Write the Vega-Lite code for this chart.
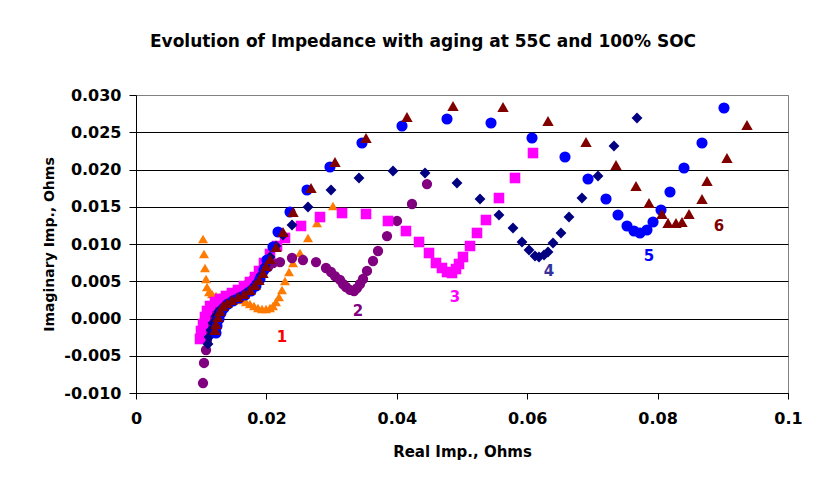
{
  "$schema": "https://vega.github.io/schema/vega-lite/v6.json",
  "width": 652,
  "height": 298,
  "autosize": {"type": "none"},
  "padding": {"left": 136, "top": 95, "right": 39, "bottom": 84},
  "background": "white",
  "title": {
    "text": "Evolution of Impedance with aging at 55C and 100% SOC",
    "font": "DejaVu Sans",
    "fontSize": 17,
    "fontWeight": "bold",
    "color": "black",
    "anchor": "middle",
    "frame": "group",
    "dx": -39,
    "baseline": "alphabetic",
    "offset": 23
  },
  "config": {
    "view": {"stroke": "#808080", "strokeWidth": 1},
    "axis": {
      "labelFont": "DejaVu Sans",
      "labelFontWeight": "bold",
      "labelColor": "black",
      "titleFont": "DejaVu Sans",
      "titleFontWeight": "bold",
      "titleColor": "black",
      "domainColor": "black",
      "tickColor": "black",
      "labelFlush": false,
      "labelOverlap": false
    }
  },
  "datasets": {
    "points": [
      {"s": "1", "x": 0.01028, "y": 0.01067},
      {"s": "1", "x": 0.01043, "y": 0.00866},
      {"s": "1", "x": 0.01058, "y": 0.00678},
      {"s": "1", "x": 0.01074, "y": 0.0053},
      {"s": "1", "x": 0.01089, "y": 0.00423},
      {"s": "1", "x": 0.0112, "y": 0.00356},
      {"s": "1", "x": 0.01166, "y": 0.00329},
      {"s": "1", "x": 0.01227, "y": 0.00302},
      {"s": "1", "x": 0.01288, "y": 0.00289},
      {"s": "1", "x": 0.0135, "y": 0.00289},
      {"s": "1", "x": 0.01411, "y": 0.00275},
      {"s": "1", "x": 0.01472, "y": 0.00275},
      {"s": "1", "x": 0.01564, "y": 0.00262},
      {"s": "1", "x": 0.01626, "y": 0.00248},
      {"s": "1", "x": 0.01687, "y": 0.00221},
      {"s": "1", "x": 0.01748, "y": 0.00195},
      {"s": "1", "x": 0.0181, "y": 0.00168},
      {"s": "1", "x": 0.01871, "y": 0.00141},
      {"s": "1", "x": 0.01933, "y": 0.00128},
      {"s": "1", "x": 0.01994, "y": 0.00128},
      {"s": "1", "x": 0.02055, "y": 0.00141},
      {"s": "1", "x": 0.02101, "y": 0.00168},
      {"s": "1", "x": 0.02147, "y": 0.00221},
      {"s": "1", "x": 0.02193, "y": 0.00289},
      {"s": "1", "x": 0.02239, "y": 0.00383},
      {"s": "1", "x": 0.02285, "y": 0.00503},
      {"s": "1", "x": 0.02347, "y": 0.00624},
      {"s": "1", "x": 0.02408, "y": 0.00745},
      {"s": "1", "x": 0.02515, "y": 0.00879},
      {"s": "1", "x": 0.02638, "y": 0.01081},
      {"s": "1", "x": 0.02776, "y": 0.01282},
      {"s": "1", "x": 0.03021, "y": 0.0151},
      {"s": "2", "x": 0.01028, "y": -0.00866},
      {"s": "2", "x": 0.01043, "y": -0.00597},
      {"s": "2", "x": 0.01074, "y": -0.00423},
      {"s": "2", "x": 0.01089, "y": -0.00289},
      {"s": "2", "x": 0.01104, "y": -0.00154},
      {"s": "2", "x": 0.01135, "y": -0.0002},
      {"s": "2", "x": 0.01166, "y": 0.00087},
      {"s": "2", "x": 0.01212, "y": 0.00181},
      {"s": "2", "x": 0.01288, "y": 0.00248},
      {"s": "2", "x": 0.01396, "y": 0.00289},
      {"s": "2", "x": 0.01488, "y": 0.00342},
      {"s": "2", "x": 0.01595, "y": 0.00383},
      {"s": "2", "x": 0.01702, "y": 0.0045},
      {"s": "2", "x": 0.01794, "y": 0.00517},
      {"s": "2", "x": 0.01871, "y": 0.0057},
      {"s": "2", "x": 0.01948, "y": 0.00624},
      {"s": "2", "x": 0.02025, "y": 0.00691},
      {"s": "2", "x": 0.02101, "y": 0.00745},
      {"s": "2", "x": 0.02209, "y": 0.00758},
      {"s": "2", "x": 0.02393, "y": 0.00812},
      {"s": "2", "x": 0.02561, "y": 0.00785},
      {"s": "2", "x": 0.02761, "y": 0.00758},
      {"s": "2", "x": 0.02914, "y": 0.00678},
      {"s": "2", "x": 0.02991, "y": 0.00624},
      {"s": "2", "x": 0.03052, "y": 0.0057},
      {"s": "2", "x": 0.03129, "y": 0.00517},
      {"s": "2", "x": 0.03175, "y": 0.00463},
      {"s": "2", "x": 0.03221, "y": 0.00423},
      {"s": "2", "x": 0.03282, "y": 0.00383},
      {"s": "2", "x": 0.03344, "y": 0.00369},
      {"s": "2", "x": 0.0339, "y": 0.00409},
      {"s": "2", "x": 0.03436, "y": 0.00463},
      {"s": "2", "x": 0.03482, "y": 0.0053},
      {"s": "2", "x": 0.03543, "y": 0.00638},
      {"s": "2", "x": 0.03635, "y": 0.00772},
      {"s": "2", "x": 0.03712, "y": 0.00906},
      {"s": "2", "x": 0.0385, "y": 0.01107},
      {"s": "2", "x": 0.04003, "y": 0.01309},
      {"s": "2", "x": 0.04233, "y": 0.01537},
      {"s": "2", "x": 0.04463, "y": 0.01805},
      {"s": "3", "x": 0.00982, "y": -0.00275},
      {"s": "3", "x": 0.00997, "y": -0.00168},
      {"s": "3", "x": 0.01028, "y": -0.00074},
      {"s": "3", "x": 0.01058, "y": 0.0002},
      {"s": "3", "x": 0.01089, "y": 0.00101},
      {"s": "3", "x": 0.01135, "y": 0.00168},
      {"s": "3", "x": 0.01212, "y": 0.00221},
      {"s": "3", "x": 0.01288, "y": 0.00262},
      {"s": "3", "x": 0.0138, "y": 0.00302},
      {"s": "3", "x": 0.01472, "y": 0.00342},
      {"s": "3", "x": 0.01564, "y": 0.00383},
      {"s": "3", "x": 0.01656, "y": 0.00436},
      {"s": "3", "x": 0.01748, "y": 0.0049},
      {"s": "3", "x": 0.01825, "y": 0.00557},
      {"s": "3", "x": 0.01887, "y": 0.00638},
      {"s": "3", "x": 0.01963, "y": 0.00745},
      {"s": "3", "x": 0.02055, "y": 0.00866},
      {"s": "3", "x": 0.02163, "y": 0.00973},
      {"s": "3", "x": 0.02285, "y": 0.01081},
      {"s": "3", "x": 0.02531, "y": 0.01242},
      {"s": "3", "x": 0.02822, "y": 0.01362},
      {"s": "3", "x": 0.0316, "y": 0.01416},
      {"s": "3", "x": 0.03528, "y": 0.01403},
      {"s": "3", "x": 0.03865, "y": 0.01309},
      {"s": "3", "x": 0.04141, "y": 0.01174},
      {"s": "3", "x": 0.04341, "y": 0.01027},
      {"s": "3", "x": 0.04494, "y": 0.00879},
      {"s": "3", "x": 0.04601, "y": 0.00745},
      {"s": "3", "x": 0.04693, "y": 0.00678},
      {"s": "3", "x": 0.0477, "y": 0.00624},
      {"s": "3", "x": 0.04847, "y": 0.00611},
      {"s": "3", "x": 0.04908, "y": 0.00664},
      {"s": "3", "x": 0.04954, "y": 0.00732},
      {"s": "3", "x": 0.05015, "y": 0.00826},
      {"s": "3", "x": 0.05123, "y": 0.00973},
      {"s": "3", "x": 0.0523, "y": 0.01148},
      {"s": "3", "x": 0.05368, "y": 0.01322},
      {"s": "3", "x": 0.05567, "y": 0.01617},
      {"s": "3", "x": 0.05813, "y": 0.01886},
      {"s": "3", "x": 0.06089, "y": 0.02221},
      {"s": "4", "x": 0.01104, "y": -0.00342},
      {"s": "4", "x": 0.0112, "y": -0.00248},
      {"s": "4", "x": 0.0115, "y": -0.00154},
      {"s": "4", "x": 0.01181, "y": -0.0006},
      {"s": "4", "x": 0.01227, "y": 0.00034},
      {"s": "4", "x": 0.01273, "y": 0.00101},
      {"s": "4", "x": 0.0135, "y": 0.00168},
      {"s": "4", "x": 0.01426, "y": 0.00208},
      {"s": "4", "x": 0.01503, "y": 0.00248},
      {"s": "4", "x": 0.01595, "y": 0.00289},
      {"s": "4", "x": 0.01687, "y": 0.00342},
      {"s": "4", "x": 0.01779, "y": 0.00409},
      {"s": "4", "x": 0.01856, "y": 0.0049},
      {"s": "4", "x": 0.01917, "y": 0.00584},
      {"s": "4", "x": 0.01979, "y": 0.00705},
      {"s": "4", "x": 0.02055, "y": 0.00826},
      {"s": "4", "x": 0.02147, "y": 0.00973},
      {"s": "4", "x": 0.02255, "y": 0.01121},
      {"s": "4", "x": 0.02393, "y": 0.01255},
      {"s": "4", "x": 0.02638, "y": 0.01497},
      {"s": "4", "x": 0.02991, "y": 0.01725},
      {"s": "4", "x": 0.0342, "y": 0.01886},
      {"s": "4", "x": 0.03942, "y": 0.0198},
      {"s": "4", "x": 0.04433, "y": 0.01953},
      {"s": "4", "x": 0.04923, "y": 0.01819},
      {"s": "4", "x": 0.05276, "y": 0.01604},
      {"s": "4", "x": 0.05567, "y": 0.01389},
      {"s": "4", "x": 0.05782, "y": 0.01215},
      {"s": "4", "x": 0.0592, "y": 0.01027},
      {"s": "4", "x": 0.06028, "y": 0.00919},
      {"s": "4", "x": 0.0612, "y": 0.00839},
      {"s": "4", "x": 0.06181, "y": 0.00826},
      {"s": "4", "x": 0.06258, "y": 0.00852},
      {"s": "4", "x": 0.06319, "y": 0.00893},
      {"s": "4", "x": 0.06396, "y": 0.01013},
      {"s": "4", "x": 0.06518, "y": 0.01148},
      {"s": "4", "x": 0.06641, "y": 0.01362},
      {"s": "4", "x": 0.0684, "y": 0.01617},
      {"s": "4", "x": 0.07086, "y": 0.01913},
      {"s": "4", "x": 0.07331, "y": 0.02315},
      {"s": "4", "x": 0.07684, "y": 0.02691},
      {"s": "5", "x": 0.01227, "y": -0.00195},
      {"s": "5", "x": 0.01242, "y": -0.00101},
      {"s": "5", "x": 0.01273, "y": -0.00007},
      {"s": "5", "x": 0.01304, "y": 0.00074},
      {"s": "5", "x": 0.0135, "y": 0.00141},
      {"s": "5", "x": 0.01411, "y": 0.00195},
      {"s": "5", "x": 0.01488, "y": 0.00235},
      {"s": "5", "x": 0.0158, "y": 0.00275},
      {"s": "5", "x": 0.01672, "y": 0.00315},
      {"s": "5", "x": 0.01764, "y": 0.00369},
      {"s": "5", "x": 0.0184, "y": 0.00436},
      {"s": "5", "x": 0.01902, "y": 0.0053},
      {"s": "5", "x": 0.01963, "y": 0.00651},
      {"s": "5", "x": 0.02009, "y": 0.00785},
      {"s": "5", "x": 0.02101, "y": 0.0096},
      {"s": "5", "x": 0.02178, "y": 0.01161},
      {"s": "5", "x": 0.02362, "y": 0.0143},
      {"s": "5", "x": 0.02623, "y": 0.01725},
      {"s": "5", "x": 0.02975, "y": 0.02034},
      {"s": "5", "x": 0.03466, "y": 0.02356},
      {"s": "5", "x": 0.0408, "y": 0.02584},
      {"s": "5", "x": 0.0477, "y": 0.02678},
      {"s": "5", "x": 0.05445, "y": 0.02624},
      {"s": "5", "x": 0.06074, "y": 0.02423},
      {"s": "5", "x": 0.0658, "y": 0.02168},
      {"s": "5", "x": 0.06933, "y": 0.01872},
      {"s": "5", "x": 0.07209, "y": 0.01604},
      {"s": "5", "x": 0.07393, "y": 0.01389},
      {"s": "5", "x": 0.07531, "y": 0.01242},
      {"s": "5", "x": 0.07638, "y": 0.01174},
      {"s": "5", "x": 0.0773, "y": 0.01148},
      {"s": "5", "x": 0.07837, "y": 0.01188},
      {"s": "5", "x": 0.0793, "y": 0.01295},
      {"s": "5", "x": 0.08052, "y": 0.01456},
      {"s": "5", "x": 0.0819, "y": 0.01698},
      {"s": "5", "x": 0.08405, "y": 0.0202},
      {"s": "5", "x": 0.08681, "y": 0.02356},
      {"s": "5", "x": 0.09018, "y": 0.02826},
      {"s": "6", "x": 0.01212, "y": -0.00154},
      {"s": "6", "x": 0.01227, "y": -0.00074},
      {"s": "6", "x": 0.01258, "y": 0.0002},
      {"s": "6", "x": 0.01288, "y": 0.00101},
      {"s": "6", "x": 0.01334, "y": 0.00168},
      {"s": "6", "x": 0.01396, "y": 0.00208},
      {"s": "6", "x": 0.01472, "y": 0.00248},
      {"s": "6", "x": 0.01564, "y": 0.00289},
      {"s": "6", "x": 0.01656, "y": 0.00329},
      {"s": "6", "x": 0.01748, "y": 0.00383},
      {"s": "6", "x": 0.01825, "y": 0.0045},
      {"s": "6", "x": 0.01887, "y": 0.00517},
      {"s": "6", "x": 0.01948, "y": 0.00611},
      {"s": "6", "x": 0.01994, "y": 0.00705},
      {"s": "6", "x": 0.02055, "y": 0.00799},
      {"s": "6", "x": 0.02147, "y": 0.0096},
      {"s": "6", "x": 0.02255, "y": 0.01161},
      {"s": "6", "x": 0.02408, "y": 0.0143},
      {"s": "6", "x": 0.02684, "y": 0.01752},
      {"s": "6", "x": 0.03052, "y": 0.02101},
      {"s": "6", "x": 0.03528, "y": 0.02423},
      {"s": "6", "x": 0.04156, "y": 0.02705},
      {"s": "6", "x": 0.04862, "y": 0.02852},
      {"s": "6", "x": 0.05629, "y": 0.02839},
      {"s": "6", "x": 0.06319, "y": 0.02651},
      {"s": "6", "x": 0.06902, "y": 0.02369},
      {"s": "6", "x": 0.07362, "y": 0.0206},
      {"s": "6", "x": 0.07669, "y": 0.01779},
      {"s": "6", "x": 0.07868, "y": 0.0155},
      {"s": "6", "x": 0.08067, "y": 0.01403},
      {"s": "6", "x": 0.0816, "y": 0.01282},
      {"s": "6", "x": 0.08282, "y": 0.01282},
      {"s": "6", "x": 0.08374, "y": 0.01295},
      {"s": "6", "x": 0.08482, "y": 0.01403},
      {"s": "6", "x": 0.08681, "y": 0.01604},
      {"s": "6", "x": 0.08758, "y": 0.01846},
      {"s": "6", "x": 0.09064, "y": 0.02154},
      {"s": "6", "x": 0.09371, "y": 0.02597}
    ],
    "labels": [
      {"t": "1", "x": 0.02239, "y": -0.00248},
      {"t": "2", "x": 0.03405, "y": 0.00101},
      {"t": "3", "x": 0.04893, "y": 0.00289},
      {"t": "4", "x": 0.06334, "y": 0.00638},
      {"t": "5", "x": 0.07868, "y": 0.00839},
      {"t": "6", "x": 0.08942, "y": 0.01242}
    ]
  },
  "encoding": {
    "x": {
      "field": "x",
      "type": "quantitative",
      "scale": {"domain": [0, 0.1], "nice": false, "zero": false},
      "axis": {
        "values": [0, 0.02, 0.04, 0.06, 0.08, 0.1],
        "format": "~g",
        "grid": false,
        "tickSize": 6,
        "labelFontSize": 16,
        "labelPadding": 11,
        "title": "Real Imp., Ohms",
        "titleFontSize": 15,
        "titlePadding": 18
      }
    },
    "y": {
      "field": "y",
      "type": "quantitative",
      "scale": {"domain": [-0.01, 0.03], "nice": false, "zero": false},
      "axis": {
        "values": [-0.01, -0.005, 0, 0.005, 0.01, 0.015, 0.02, 0.025, 0.03],
        "labelExpr": "replace(format(datum.value, '.3f'), '\u2212', '-')",
        "grid": true,
        "gridColor": {"condition": {"test": "datum.value >= 0.029", "value": "#808080"}, "value": "black"},
        "gridWidth": 1,
        "tickSize": 7,
        "labelFontSize": 16,
        "labelPadding": 8,
        "title": "Imaginary Imp., Ohms",
        "titleFontSize": 14,
        "titlePadding": 7
      }
    }
  },
  "layer": [
    {
      "data": {"name": "points"},
      "mark": {"type": "point", "filled": true, "opacity": 1},
      "encoding": {
        "color": {
          "field": "s",
          "type": "nominal",
          "scale": {"domain": ["1", "2", "3", "4", "5", "6"], "range": ["#FF7A00", "#800080", "#FF00FF", "#000080", "#0000FF", "#800000"]},
          "legend": null
        },
        "shape": {
          "field": "s",
          "type": "nominal",
          "scale": {"domain": ["1", "2", "3", "4", "5", "6"], "range": ["triangle-up", "circle", "square", "diamond", "circle", "triangle-up"]},
          "legend": null
        },
        "size": {
          "field": "s",
          "type": "ordinal",
          "scale": {"domain": ["1", "2", "3", "4", "5", "6"], "range": [100, 130, 70, 70, 75, 100]},
          "legend": null
        }
      }
    },
    {
      "data": {"name": "labels"},
      "mark": {"type": "text", "font": "DejaVu Sans", "fontSize": 15, "fontWeight": "bold", "baseline": "middle", "align": "center"},
      "encoding": {
        "text": {"field": "t"},
        "color": {
          "field": "t",
          "type": "nominal",
          "scale": {"domain": ["1", "2", "3", "4", "5", "6"], "range": ["#FF0000", "#800080", "#FF00FF", "#333399", "#0000FF", "#800000"]},
          "legend": null
        }
      }
    }
  ],
  "resolve": {"scale": {"color": "independent"}}
}
